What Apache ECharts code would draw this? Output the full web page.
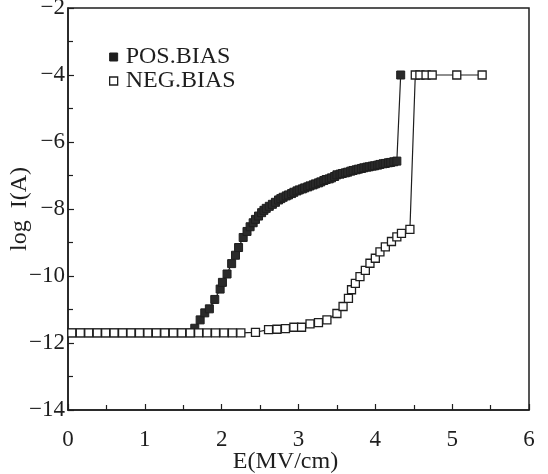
<!DOCTYPE html>
<html>
<head>
<meta charset="utf-8">
<script src="https://cdn.jsdelivr.net/npm/echarts@6/dist/echarts.min.js"></script>
<style>
html,body{margin:0;padding:0;background:#fff;}
#chart{width:548px;height:474px;}
</style>
</head>
<body>
<div id="chart"></div>
<script>
// ---- data ----
const seriesNames = ['POS.BIAS', 'NEG.BIAS'];

const posE = [0.05,0.16,0.27,0.38,0.49,0.60,0.71,0.82,0.93,1.04,1.15,1.26,1.37,1.48,1.59,
  1.65,1.72,1.78,1.84,1.91,1.98,2.01,2.07,2.13,2.18,
  2.22,2.28,2.33,2.37,2.41,2.44,2.48,2.52,2.55,2.58,2.62,2.66,2.70,2.74,2.77,2.80,
  2.84,2.87,2.91,2.94,2.98,3.01,3.05,3.08,3.12,3.15,3.19,3.22,3.26,3.29,3.33,3.36,3.40,3.43,3.47,3.50,
  3.54,3.57,3.61,3.64,3.68,3.71,3.75,3.78,3.82,3.85,3.89,3.92,3.96,3.99,4.03,4.06,4.10,4.13,4.17,4.20,
  4.24,4.28,4.33];
const posLogI = [-11.7,-11.7,-11.7,-11.7,-11.7,-11.7,-11.7,-11.7,-11.7,-11.7,-11.7,-11.7,-11.7,-11.7,-11.7,
  -11.56,-11.31,-11.1,-10.98,-10.7,-10.39,-10.19,-9.94,-9.63,-9.38,
  -9.15,-8.85,-8.67,-8.53,-8.41,-8.31,-8.21,-8.11,-8.04,-7.98,-7.92,-7.86,-7.8,-7.73,-7.69,-7.65,
  -7.61,-7.58,-7.54,-7.5,-7.46,-7.43,-7.4,-7.37,-7.34,-7.31,-7.28,-7.25,-7.22,-7.19,-7.15,-7.12,-7.1,-7.07,-7.03,-6.98,
  -6.96,-6.94,-6.92,-6.9,-6.87,-6.85,-6.83,-6.81,-6.79,-6.77,-6.75,-6.74,-6.72,-6.71,-6.69,-6.67,-6.65,-6.64,-6.62,-6.61,
  -6.59,-6.57,-4.0];

const negE = [0.05,0.16,0.27,0.38,0.49,0.60,0.71,0.82,0.93,1.04,1.15,1.26,1.37,1.48,1.59,1.70,1.81,1.92,2.03,2.14,2.25,
  2.44,2.61,2.72,2.83,2.94,3.04,3.15,3.26,3.37,3.50,
  3.58,3.65,3.69,3.74,3.80,3.87,3.93,4.00,4.06,4.13,
  4.21,4.28,4.34,4.45,
  4.52,4.58,4.66,4.74,5.06,5.39];
const negLogI = [-11.7,-11.7,-11.7,-11.7,-11.7,-11.7,-11.7,-11.7,-11.7,-11.7,-11.7,-11.7,-11.7,-11.7,-11.7,-11.7,-11.7,-11.7,-11.7,-11.7,-11.7,
  -11.68,-11.6,-11.59,-11.57,-11.53,-11.53,-11.43,-11.39,-11.31,-11.12,
  -10.91,-10.67,-10.41,-10.22,-10.02,-9.83,-9.62,-9.47,-9.28,-9.13,
  -8.97,-8.83,-8.73,-8.61,
  -4.0,-4.0,-4.0,-4.0,-4.0,-4.0];

const xTicks = [0,1,2,3,4,5,6];
const yTicks = [-14,-12,-10,-8,-6,-4,-2];

// ---- chart ----
const pair = (xs, ys) => xs.map((x, i) => [x, ys[i]]);
const FONT = '"Liberation Serif", "Times New Roman", serif';
const INK = '#1e1e1e';

const chart = echarts.init(document.getElementById('chart'), null, {renderer: 'canvas'});
chart.setOption({
  animation: false,
  backgroundColor: '#ffffff',
  grid: {left: 68, right: 19, top: 8, bottom: 64, outerBoundsMode: 'none', containLabel: false,
    show: true, borderColor: INK, borderWidth: 1.5, backgroundColor: 'transparent'},
  legend: {
    orient: 'vertical', left: 109, top: 45, itemGap: 0,
    itemWidth: 8, itemHeight: 8, padding: 0,
    textStyle: {fontFamily: FONT, fontSize: 24, color: INK, lineHeight: 20, padding: [0,0,0,3]},
    data: [
      {name: seriesNames[0], icon: 'rect', itemStyle: {color: INK, borderColor: INK, borderWidth: 1}},
      {name: seriesNames[1], icon: 'rect', itemStyle: {color: '#fff', borderColor: INK, borderWidth: 1.3}}
    ]
  },
  xAxis: {
    type: 'value', min: xTicks[0], max: xTicks[xTicks.length-1], interval: 1,
    name: 'E(MV/cm)', nameLocation: 'middle', nameGap: 40, nameMoveOverlap: false,
    nameTextStyle: {fontFamily: FONT, fontSize: 24, color: INK, padding: [0,26,0,0]},
    axisLine: {show: true, lineStyle: {color: INK, width: 1.5}},
    axisTick: {show: true, inside: true, length: 6, lineStyle: {color: INK, width: 1.2}},
    minorTick: {show: true, splitNumber: 2, length: 5, lineStyle: {color: INK, width: 1.2}},
    splitLine: {show: false},
    axisLabel: {fontFamily: FONT, fontSize: 23, color: INK, margin: 18}
  },
  yAxis: {
    type: 'value', min: yTicks[0], max: yTicks[yTicks.length-1], interval: 2,
    name: 'log  I(A)', nameLocation: 'middle', nameGap: 36, nameRotate: 90, nameMoveOverlap: false,
    nameTextStyle: {fontFamily: FONT, fontSize: 24, color: INK},
    axisLine: {show: true, lineStyle: {color: INK, width: 1.5}},
    axisTick: {show: true, inside: true, length: 6, lineStyle: {color: INK, width: 1.2}},
    minorTick: {show: true, splitNumber: 2, length: 5, lineStyle: {color: INK, width: 1.2}},
    splitLine: {show: false},
    axisLabel: {fontFamily: FONT, fontSize: 23, color: INK, margin: 3,
      formatter: v => '\u2212' + Math.abs(v)}
  },
  series: [
    {
      name: seriesNames[0], type: 'line', data: pair(posE, posLogI),
      symbol: 'rect', symbolSize: 8, showAllSymbol: true, z: 2,
      lineStyle: {color: INK, width: 1.2},
      itemStyle: {color: '#2a2a2a', borderColor: INK, borderWidth: 1}
    },
    {
      name: seriesNames[1], type: 'line', data: pair(negE, negLogI),
      symbol: 'rect', symbolSize: 8, showAllSymbol: true, z: 3,
      lineStyle: {color: INK, width: 1.2},
      itemStyle: {color: '#ffffff', borderColor: INK, borderWidth: 1.3}
    }
  ]
});
</script>
</body>
</html>
